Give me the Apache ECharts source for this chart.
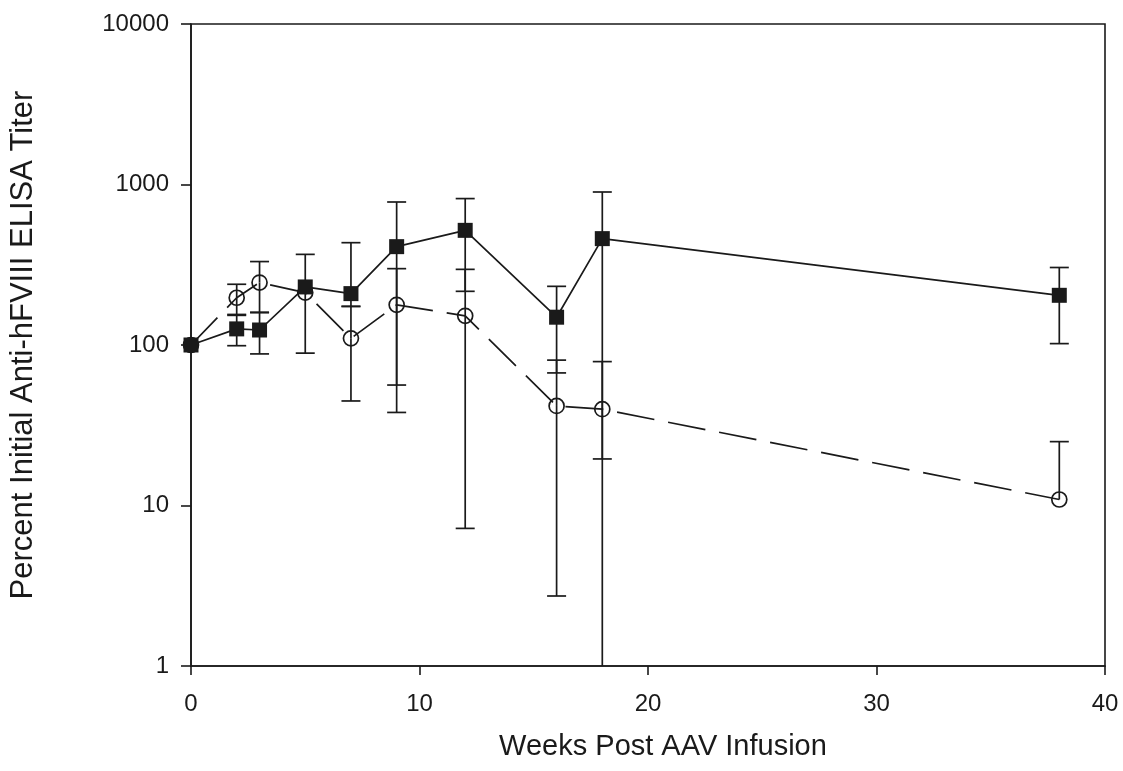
<!DOCTYPE html>
<html>
<head>
<meta charset="utf-8">
<script src="https://cdn.jsdelivr.net/npm/echarts@6/dist/echarts.min.js"></script>
<style>
  html, body { margin: 0; padding: 0; background: #fff; }
  #main { width: 1123px; height: 771px; }
</style>
</head>
<body>
<div id="main"></div>
<script>
// weeks after infusion
var weeks = [0, 2, 3, 5, 7, 9, 12, 16, 18, 38];

// filled squares (solid line)
var squareMean = [100, 126, 124, 230, 209, 410, 518, 149, 460, 204];
var squareLow  = [null, 99, 88, 89, 174, 38, 216, 67, 19.5, 102];
var squareHigh = [null, 153, 160, 367, 434, 778, 817, 232, 898, 304];

// open circles (dashed line)
var circleMean = [100, 197, 245, 212, 110, 178, 152, 41.7, 39.8, 10.9];
var circleLow  = [null, 155, 159, null, 44.8, 56.3, 7.2, 2.73, 0.8, null];
var circleHigh = [null, 239, 331, null, 174, 299, 296, 80.5, 78.8, 25];

var yTicks = [1, 10, 100, 1000, 10000];
var xTicks = [0, 10, 20, 30, 40];

var ink = '#1a1a1a';
var font = 'Liberation Sans, Arial, sans-serif';

function pairs(ys) {
    return weeks.map(function (w, i) { return [w, ys[i]]; });
}

function errData(mean, low, high) {
    return weeks.map(function (w, i) { return [w, low[i], high[i], mean[i]]; });
}

// vertical error bars with caps, cut at the bottom of the log axis
function renderErr(params, api) {
    var x = api.value(0), lo = api.value(1), hi = api.value(2), mid = api.value(3);
    var floor = yTicks[0];
    var cap = 9.5;
    var style = { stroke: ink, lineWidth: 1.7, fill: null };
    var c = api.coord([x, mid]);
    var kids = [];
    if (!isNaN(hi) && hi !== null) {
        var t = api.coord([x, hi]);
        kids.push({ type: 'line', shape: { x1: c[0], y1: c[1], x2: t[0], y2: t[1] }, style: style });
        kids.push({ type: 'line', shape: { x1: t[0] - cap, y1: t[1], x2: t[0] + cap, y2: t[1] }, style: style });
    }
    if (!isNaN(lo) && lo !== null) {
        var clipped = lo < floor;
        var b = api.coord([x, clipped ? floor : lo]);
        kids.push({ type: 'line', shape: { x1: c[0], y1: c[1], x2: b[0], y2: b[1] }, style: style });
        if (!clipped) {
            kids.push({ type: 'line', shape: { x1: b[0] - cap, y1: b[1], x2: b[0] + cap, y2: b[1] }, style: style });
        }
    }
    return { type: 'group', children: kids };
}

var myChart = echarts.init(document.getElementById('main'));
var option = {
    animation: false,
    backgroundColor: '#fff',
    grid: {
        left: 190, right: 18, top: 24, bottom: 105,
        show: true, borderColor: ink, borderWidth: 1.6,
        backgroundColor: 'transparent'
    },
    xAxis: {
        type: 'value',
        min: xTicks[0], max: xTicks[xTicks.length - 1], interval: 10,
        name: 'Weeks Post AAV Infusion',
        nameLocation: 'middle',
        nameGap: 66,
        nameTextStyle: { fontSize: 29, color: ink, fontFamily: font, padding: [0, 0, 0, 30] },
        axisLine: { show: true, onZero: false, lineStyle: { color: ink, width: 1.6 } },
        axisTick: { show: true, inside: false, length: 9, lineStyle: { color: ink, width: 1.6 } },
        axisLabel: { fontSize: 24, color: ink, fontFamily: font, margin: 26 },
        splitLine: { show: false }
    },
    yAxis: {
        type: 'log', logBase: 10,
        min: yTicks[0], max: yTicks[yTicks.length - 1],
        name: 'Percent Initial Anti-hFVIII ELISA Titer',
        nameLocation: 'middle',
        nameGap: 152,
        nameTextStyle: { fontSize: 31, color: ink, fontFamily: font },
        axisLine: { show: true, lineStyle: { color: ink, width: 1.6 } },
        axisTick: { show: true, inside: false, length: 10, lineStyle: { color: ink, width: 1.6 } },
        minorTick: { show: false },
        axisLabel: {
            fontSize: 24, color: ink, fontFamily: font, margin: 22,
            formatter: function (v) { return String(Math.round(v)); }
        },
        splitLine: { show: false }
    },
    series: [
        {
            type: 'custom',
            renderItem: renderErr,
            data: errData(squareMean, squareLow, squareHigh),
            encode: { x: 0, y: 3 },
            z: 1,
            silent: true
        },
        {
            type: 'custom',
            renderItem: renderErr,
            data: errData(circleMean, circleLow, circleHigh),
            encode: { x: 0, y: 3 },
            z: 1,
            silent: true
        },
        {
            type: 'line',
            data: pairs(circleMean),
            symbol: 'circle',
            symbolSize: 15,
            itemStyle: { color: 'rgba(0,0,0,0)', borderColor: ink, borderWidth: 1.7 },
            lineStyle: { color: ink, width: 1.7, type: [38, 14] },
            z: 3
        },
        {
            type: 'line',
            data: pairs(squareMean),
            symbol: 'rect',
            symbolSize: 15,
            itemStyle: { color: ink },
            lineStyle: { color: ink, width: 1.7, type: 'solid' },
            z: 4
        }
    ]
};
myChart.setOption(option);
</script>
</body>
</html>
